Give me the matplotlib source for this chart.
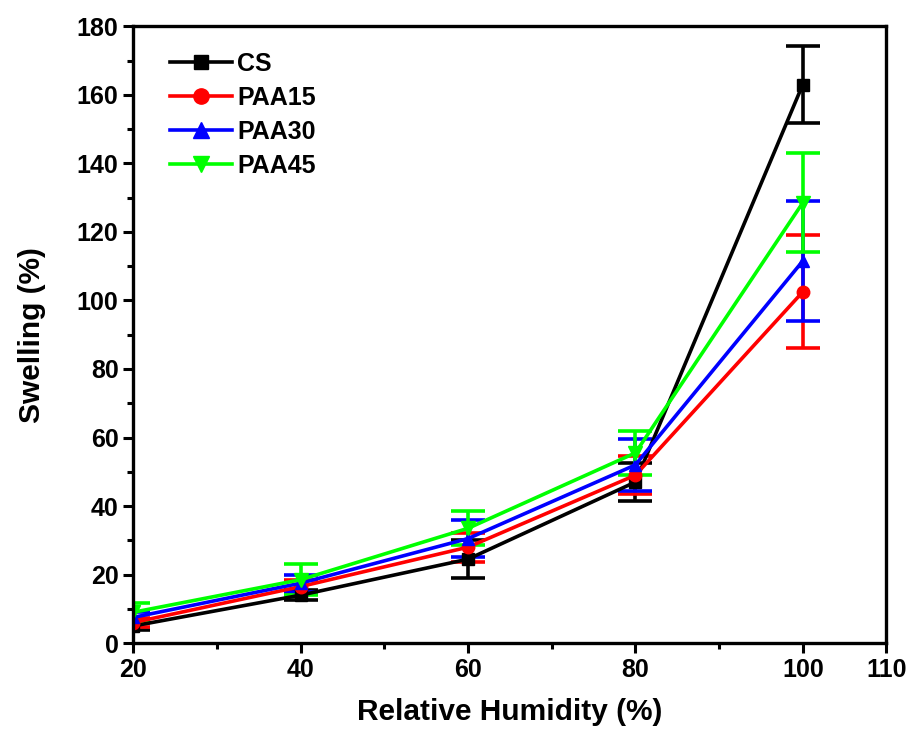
import numpy as np
import matplotlib.pyplot as plt
from matplotlib.ticker import MultipleLocator
from matplotlib.lines import Line2D

plt.rcParams['font.family'] = ['Liberation Sans', 'DejaVu Sans']
plt.rcParams['font.weight'] = 'bold'

humidity = [20, 40, 60, 80, 100]

cs = [5, 14, 24.5, 47, 163]
cs_err = [1.2, 1.5, 5.5, 5.5, 11.3]

paa15 = [6, 16.5, 28, 49, 102.5]
paa15_err = [1.2, 2, 4.2, 5.5, 16.5]

paa30 = [7.5, 17.5, 30.5, 52, 111.5]
paa30_err = [1.5, 2.5, 5.3, 7.5, 17.5]

paa45 = [9, 18.5, 33.5, 55.5, 128.5]
paa45_err = [2.8, 4.5, 5, 6.5, 14.5]

series = [
    ("CS", cs, cs_err, "black", "s", 8),
    ("PAA15", paa15, paa15_err, "#ff0000", "o", 9),
    ("PAA30", paa30, paa30_err, "#0000ff", "^", 9),
    ("PAA45", paa45, paa45_err, "#00ff00", "v", 10),
]

fig = plt.figure(figsize=(9.12, 7.3), dpi=100)
ax = fig.add_axes([0.146, 0.119, 0.826, 0.845])

handles = []
for name, y, err, color, marker, ms in series:
    ax.errorbar(humidity, y, yerr=err, color=color, marker=marker, ms=ms,
                lw=2.6, elinewidth=2.6, capsize=12, capthick=2.6)
    # plain line+marker handle for the legend (no error bar glyph)
    handles.append(Line2D([], [], color=color, marker=marker, ms=ms + 2,
                          lw=2.6, label=name))

ax.set_xlim(20, 110)
ax.set_ylim(0, 180)
ax.set_xticks([20, 40, 60, 80, 100, 110])
ax.xaxis.set_minor_locator(MultipleLocator(10))
ax.yaxis.set_major_locator(MultipleLocator(20))
ax.yaxis.set_minor_locator(MultipleLocator(10))
ax.tick_params(which='major', direction='out', length=7, width=2.2,
               labelsize=18, top=False, right=False)
ax.tick_params(which='minor', direction='out', length=4, width=2.2,
               top=False, right=False)
for lbl in ax.get_xticklabels() + ax.get_yticklabels():
    lbl.set_fontweight('bold')
for s in ax.spines.values():
    s.set_linewidth(2.4)

ax.set_xlabel("Relative Humidity (%)", fontsize=21.5, fontweight='bold', labelpad=12)
ax.set_ylabel("Swelling (%)", fontsize=21.5, fontweight='bold', labelpad=22)

leg = ax.legend(handles=handles, loc='upper left', frameon=False, fontsize=18,
                handlelength=2.5, handletextpad=0.2, labelspacing=0.4,
                borderaxespad=0.0, bbox_to_anchor=(0.035, 0.975))
for t in leg.get_texts():
    t.set_fontweight('bold')

fig.savefig("out.png", dpi=100)
